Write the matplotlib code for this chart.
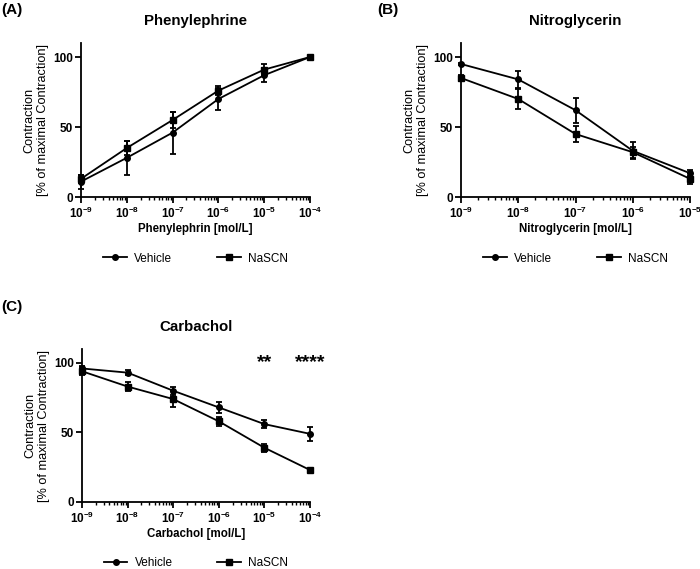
import numpy as np
import matplotlib
matplotlib.use("Agg")
import matplotlib.pyplot as plt
from matplotlib.ticker import LogLocator, NullFormatter, FixedLocator
from matplotlib.lines import Line2D

plt.rcParams['font.family'] = ['Liberation Sans', 'DejaVu Sans']
plt.rcParams['mathtext.fontset'] = 'custom'
plt.rcParams['mathtext.rm'] = 'Liberation Sans'
plt.rcParams['mathtext.bf'] = 'Liberation Sans:bold'

# ---- data ----
conc_A = [1e-9, 1e-8, 1e-7, 1e-6, 1e-5, 1e-4]
veh_A = [11, 28, 46, 70, 87, 100]
veh_A_err = [5, 12, 15, 8, 5, 0]
nas_A = [13, 35, 55, 76, 91, 100]
nas_A_err = [3, 5, 6, 3, 4, 0]

conc_B = [1e-9, 1e-8, 1e-7, 1e-6, 1e-5]
veh_B = [95, 84, 62, 33, 17]
veh_B_err = [1, 6, 9, 6, 2]
nas_B = [85, 70, 45, 32, 13]
nas_B_err = [2, 7, 6, 4, 4]

conc_C = [1e-9, 1e-8, 1e-7, 1e-6, 1e-5, 1e-4]
veh_C = [96, 93, 80, 68, 56, 49]
veh_C_err = [2, 2, 3, 4, 3, 5]
nas_C = [94, 83, 74, 58, 39, 23]
nas_C_err = [3, 3, 6, 3, 3, 1]

stars_x = [1e-5, 1e-4]
stars_txt = ['**', '****']

titles = ['Phenylephrine', 'Nitroglycerin', 'Carbachol']
xlabels = ['Phenylephrin [mol/L]', 'Nitroglycerin [mol/L]', 'Carbachol [mol/L]']
panel_labels = ['(A)', '(B)', '(C)']
ylabel = 'Contraction\n[% of maximal Contraction]'
series_names = ['Vehicle', 'NaSCN']
series_markers = ['o', 's']

fig = plt.figure(figsize=(7.0, 5.69), dpi=100)

W, H = 700, 569
def rect(l, t, r, b):
    return [l / W, (H - b) / H, (r - l) / W, (b - t) / H]

axA = fig.add_axes(rect(81, 43, 310, 197))
axB = fig.add_axes(rect(461, 43, 690, 197))
axC = fig.add_axes(rect(82, 349, 310, 502))

def style(ax, conc, veh, veh_err, nas, nas_err, title, xlabel):
    for vals, errs, mk in ((veh, veh_err, series_markers[0]), (nas, nas_err, series_markers[1])):
        ax.errorbar(conc, vals, yerr=errs, color='black', marker=mk, markersize=4,
                    linewidth=1.3, elinewidth=1.3, capsize=2.5, capthick=1.3,
                    clip_on=False, zorder=3)
    ax.set_xscale('log')
    ax.set_xlim(conc[0], conc[-1])
    ax.set_ylim(0, 110)
    ax.set_yticks([0, 50, 100])
    ax.spines['top'].set_visible(False)
    ax.spines['right'].set_visible(False)
    ax.spines['left'].set_linewidth(1.3)
    ax.spines['bottom'].set_linewidth(1.3)
    ax.xaxis.set_major_locator(FixedLocator(conc))
    ax.set_xticklabels([r'$\mathbf{10^{%d}}$' % int(round(np.log10(c))) for c in conc])
    ax.xaxis.set_minor_locator(LogLocator(base=10, subs=np.arange(2, 10), numticks=20))
    ax.xaxis.set_minor_formatter(NullFormatter())
    ax.tick_params(axis='both', which='major', direction='out', length=4, width=1.3,
                   labelsize=8.5, pad=2)
    ax.tick_params(axis='x', which='minor', direction='out', length=2.2, width=1.0)
    for lbl in ax.get_yticklabels():
        lbl.set_fontweight('bold')
    ax.set_ylabel(ylabel, fontsize=9.2, linespacing=1.1, labelpad=3)
    ax.set_xlabel(xlabel, fontsize=8.3, fontweight='bold', labelpad=2)
    ax.text(0.5, 1.145, title, transform=ax.transAxes, ha='center', va='center',
            fontsize=10.8, fontweight='bold')
    handles = [Line2D([], [], color='black', marker=m, markersize=4, linewidth=1.3)
               for m in series_markers]
    ax.legend(handles, series_names, loc='center', bbox_to_anchor=(0.5, -0.40), ncol=2,
              frameon=False, fontsize=8.5, columnspacing=3.8, handlelength=2.0,
              handletextpad=0.6)

style(axA, conc_A, veh_A, veh_A_err, nas_A, nas_A_err, titles[0], xlabels[0])
style(axB, conc_B, veh_B, veh_B_err, nas_B, nas_B_err, titles[1], xlabels[1])
style(axC, conc_C, veh_C, veh_C_err, nas_C, nas_C_err, titles[2], xlabels[2])

for sx, st in zip(stars_x, stars_txt):
    axC.text(sx, 100, st, ha='center', va='center', fontsize=14, fontweight='bold')

fig.text(1 / W, 1 - 10 / H, panel_labels[0], ha='left', va='center', fontsize=11, fontweight='bold')
fig.text(377 / W, 1 - 10 / H, panel_labels[1], ha='left', va='center', fontsize=11, fontweight='bold')
fig.text(1 / W, 1 - 307 / H, panel_labels[2], ha='left', va='center', fontsize=11, fontweight='bold')

fig.savefig('out.png', dpi=100)
